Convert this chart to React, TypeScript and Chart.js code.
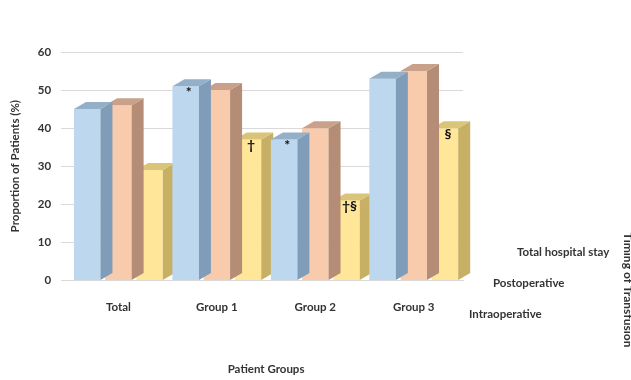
import React, { useEffect, useRef } from "react";
import { Chart, registerables } from "chart.js";

Chart.register(...registerables);

const categories = ["Total", "Group 1", "Group 2", "Group 3"];
const seriesNames = ["Intraoperative", "Postoperative", "Total hospital stay"];
const intraoperative = [45, 51, 37, 53];
const postoperative = [46, 50, 40, 55];
const totalHospitalStay = [29, 37, 21, 40];
const yTicks = [0, 10, 20, 30, 40, 50, 60];
const depthTitle = "Timing of Transfusion";
const xTitle = "Patient Groups";
const yTitle = "Proportion of Patients (%)";

// significance markers: series index, category index, symbol
const markerSeries = [0, 0, 2, 2, 2];
const markerCategory = [1, 2, 1, 2, 3];
const markerText = ["*", "*", "\u2020", "\u2020\u00a7", "\u00a7"];

const frontColors = ["#BDD7EE", "#F8CBAD", "#FFE699"];
const sideColors = ["#7F9CB8", "#B58C75", "#C7B063"];
const topColors = ["#94AFC8", "#C9A089", "#D9C477"];

const FONT = "Lato, 'Open Sans', sans-serif";
const TEXT = "#333333";

const bar3d = {
  id: "bar3d",
  afterDatasetDraw(chart: any, args: any) {
    const ctx = chart.ctx;
    const i = args.index;
    const dx = 12;
    const dy = 7;
    ctx.save();
    for (const el of args.meta.data) {
      const p = el.getProps(["x", "y", "base", "width"], true);
      const l = p.x - p.width / 2;
      const r = p.x + p.width / 2;
      ctx.fillStyle = sideColors[i];
      ctx.beginPath();
      ctx.moveTo(r, p.y);
      ctx.lineTo(r + dx, p.y - dy);
      ctx.lineTo(r + dx, p.base - dy);
      ctx.lineTo(r, p.base);
      ctx.closePath();
      ctx.fill();
      ctx.fillStyle = topColors[i];
      ctx.beginPath();
      ctx.moveTo(l, p.y);
      ctx.lineTo(l + dx, p.y - dy);
      ctx.lineTo(r + dx, p.y - dy);
      ctx.lineTo(r, p.y);
      ctx.closePath();
      ctx.fill();
    }
    ctx.restore();
  },
  afterDatasetsDraw(chart: any) {
    const ctx = chart.ctx;
    ctx.save();
    ctx.fillStyle = "#111111";
    ctx.font = `bold 14px ${FONT}`;
    ctx.textAlign = "center";
    ctx.textBaseline = "middle";
    for (let k = 0; k < markerText.length; k++) {
      const el = chart.getDatasetMeta(markerSeries[k]).data[markerCategory[k]];
      const p = el.getProps(["x", "y"], true);
      ctx.fillText(markerText[k], p.x + 3, p.y + 6);
    }
    ctx.restore();
  },
  afterDraw(chart: any) {
    const ctx = chart.ctx;
    const a = chart.chartArea;
    ctx.save();
    ctx.fillStyle = TEXT;
    ctx.font = `bold 11.5px ${FONT}`;
    ctx.textAlign = "left";
    ctx.textBaseline = "middle";
    for (let i = 0; i < seriesNames.length; i++) {
      ctx.fillText(seriesNames[i], a.right + 6 + i * 24, a.bottom + 34 - i * 31);
    }
    ctx.font = `bold 12px ${FONT}`;
    ctx.translate(628, 290);
    ctx.rotate(Math.PI / 2);
    ctx.textAlign = "center";
    ctx.fillText(depthTitle, 0, 0);
    ctx.restore();
  },
};

export default function App() {
  const ref = useRef<HTMLCanvasElement>(null);
  useEffect(() => {
    const prevMargin = document.body.style.margin;
    document.body.style.margin = "0";
    const chart = new Chart(ref.current as HTMLCanvasElement, {
      type: "bar",
      data: {
        labels: categories,
        datasets: [
          { label: seriesNames[0], data: intraoperative, backgroundColor: frontColors[0] },
          { label: seriesNames[1], data: postoperative, backgroundColor: frontColors[1] },
          { label: seriesNames[2], data: totalHospitalStay, backgroundColor: frontColors[2] },
        ],
      },
      options: {
        animation: false,
        responsive: false,
        layout: { padding: { left: 8, right: 168, top: 52, bottom: 4 } },
        datasets: { bar: { categoryPercentage: 0.95, barPercentage: 0.85 } },
        plugins: { legend: { display: false }, tooltip: { enabled: false } },
        scales: {
          x: {
            grid: { display: false },
            border: { display: true, color: "#d9d9d9" },
            ticks: { color: TEXT, font: { family: FONT, weight: "bold", size: 11.5 }, padding: 12 },
            title: {
              display: true,
              text: xTitle,
              color: TEXT,
              font: { family: FONT, weight: "bold", size: 11.5 },
              padding: { top: 36, bottom: 0 },
            },
          },
          y: {
            min: 0,
            max: 60,
            afterBuildTicks: (s: any) => {
              s.ticks = yTicks.map((v) => ({ value: v }));
            },
            grid: { color: "#d9d9d9" },
            border: { display: false },
            ticks: { color: TEXT, font: { family: FONT, weight: "bold", size: 11.5 }, padding: 10 },
            title: {
              display: true,
              text: yTitle,
              color: TEXT,
              font: { family: FONT, weight: "bold", size: 11.5 },
              padding: { top: 0, bottom: 6 },
            },
          },
        },
      },
      plugins: [bar3d],
    });
    return () => {
      chart.destroy();
      document.body.style.margin = prevMargin;
    };
  }, []);
  return (
    <div style={{ width: 631, height: 380, background: "#ffffff" }}>
      <canvas ref={ref} width={631} height={380} />
    </div>
  );
}
